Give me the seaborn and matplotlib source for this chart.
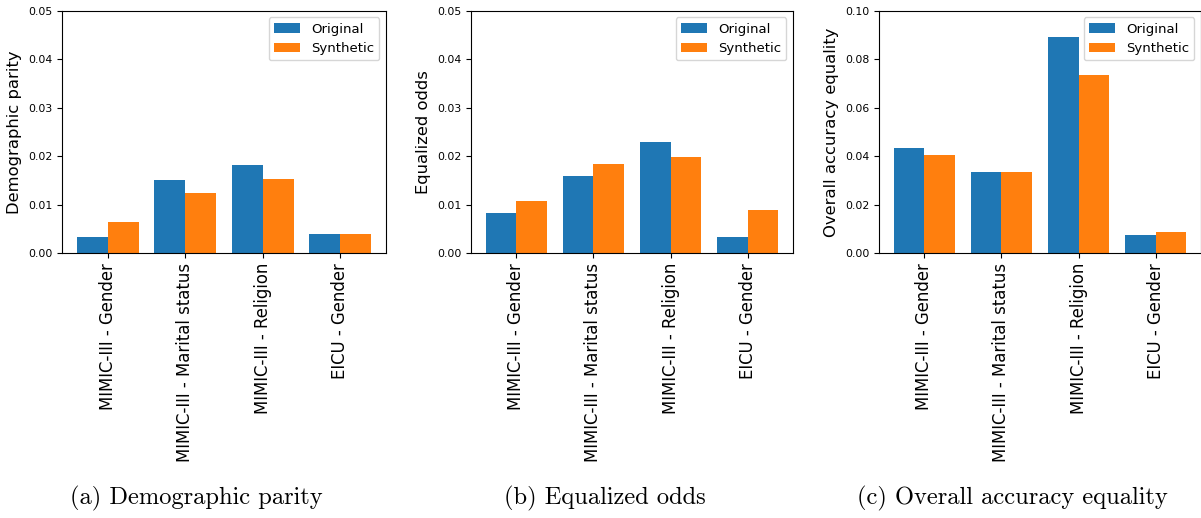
import numpy as np
import pandas as pd
import matplotlib
matplotlib.use("Agg")
import matplotlib.pyplot as plt
import seaborn as sns

categories = ["MIMIC-III - Gender", "MIMIC-III - Marital status",
              "MIMIC-III - Religion", "EICU - Gender"]
series_names = ["Original", "Synthetic"]

dp_original = [0.0034, 0.0151, 0.0182, 0.0040]
dp_synthetic = [0.0065, 0.0124, 0.0153, 0.0040]

eo_original = [0.0083, 0.0159, 0.0229, 0.0034]
eo_synthetic = [0.0108, 0.0184, 0.0198, 0.0089]

oae_original = [0.0434, 0.0335, 0.0891, 0.0076]
oae_synthetic = [0.0405, 0.0335, 0.0735, 0.0088]

ylabels = ["Demographic parity", "Equalized odds", "Overall accuracy equality"]
captions = ["(a) Demographic parity", "(b) Equalized odds", "(c) Overall accuracy equality"]
ymaxes = [0.05, 0.05, 0.10]
ysteps = [0.01, 0.01, 0.02]

panels = [(dp_original, dp_synthetic), (eo_original, eo_synthetic), (oae_original, oae_synthetic)]

fig = plt.figure(figsize=(12.01, 5.18), dpi=100)
W, H = 1201, 518
lefts = [62, 471, 879]
widths = [324, 322, 322]
top_px, bot_px = 10.7, 253.3
caption_x = [196, 605, 1012]

palette = {"Original": "#1f77b4", "Synthetic": "#ff7f0e"}

for i, (orig, synth) in enumerate(panels):
    ax = fig.add_axes([lefts[i] / W, 1 - bot_px / H, widths[i] / W, (bot_px - top_px) / H])
    df = pd.DataFrame({
        "category": categories * 2,
        "series": [series_names[0]] * 4 + [series_names[1]] * 4,
        "value": list(orig) + list(synth),
    })
    sns.barplot(data=df, x="category", y="value", hue="series", order=categories,
                hue_order=series_names, palette=palette, saturation=1, width=0.8,
                ax=ax, errorbar=None)
    ax.set_xlim(-0.59, 3.59)
    ax.set_ylim(0, ymaxes[i])
    ax.set_yticks(np.round(np.arange(0, ymaxes[i] + 1e-9, ysteps[i]), 4))
    ax.set_yticklabels([f"{v:.2f}" for v in ax.get_yticks()], fontsize=7.8)
    ax.set_xticks(range(len(categories)))
    ax.set_xticklabels(categories, rotation=90, fontsize=11.9)
    ax.set_xlabel("")
    ax.set_ylabel(ylabels[i], fontsize=11.8)
    ax.legend(loc="upper right", fontsize=9.5, title=None)
    for s in ax.spines.values():
        s.set_linewidth(0.8)
    fig.text(caption_x[i] / W, 1 - 498 / H, captions[i], ha="center", va="center",
             fontsize=17.6, family="cmr10")

fig.savefig("out.png", dpi=100)
